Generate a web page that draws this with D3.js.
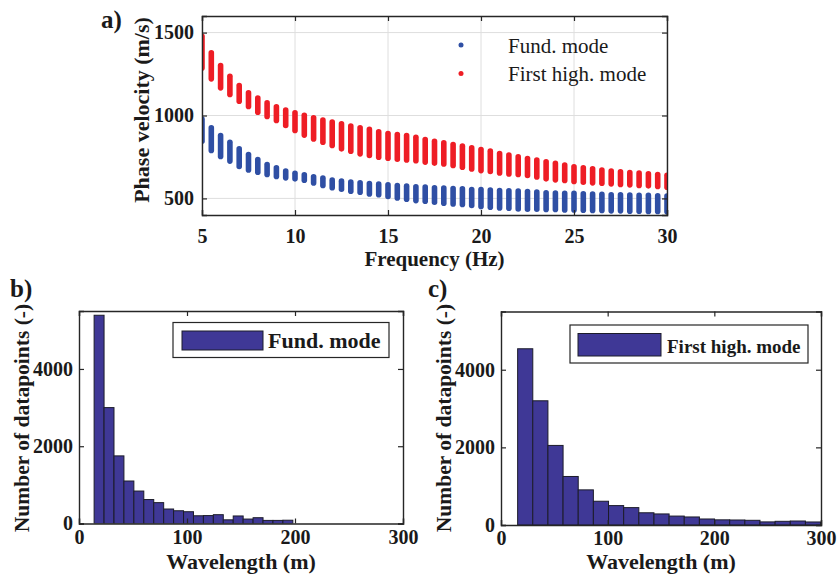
<!DOCTYPE html>
<html>
<head>
<meta charset="utf-8">
<script src="https://cdn.jsdelivr.net/npm/d3@7"></script>
<style>
  html, body { margin: 0; padding: 0; background: #fff; }
  svg { display: block; }
  text { font-family: "Liberation Serif", "Times New Roman", serif; fill: #1a1a1a; }
</style>
</head>
<body>
<svg id="chart" width="837" height="579"></svg>
<script>
// ---------- Data: panel a ----------
const frequencies = [5,5.5,6,6.5,7,7.5,8,8.5,9,9.5,10,10.5,11,11.5,12,12.5,13,13.5,14,14.5,15,15.5,16,16.5,17,17.5,18,18.5,19,19.5,20,20.5,21,21.5,22,22.5,23,23.5,24,24.5,25,25.5,26,26.5,27,27.5,28,28.5,29,29.5,30];
const fundMax = [995,943,896,856,816,782,752,721,702,682,669,659,647,639,627,621,615,611,607,603,599,595,591,587,585,581,579,577,575,571,570,567,565,563,561,559,555,551,550,547,547,545,543,541,539,539,537,535,535,533,531];
const fundMin = [828,772,736,708,676,655,641,627,615,607,601,593,576,561,547,539,527,521,510,505,495,486,478,470,466,460,454,450,446,440,434,430,426,424,420,418,418,417,416,414,414,412,410,410,408,408,406,406,404,404,402];
const highMax = [1495,1395,1318,1254,1198,1154,1122,1093,1069,1049,1033,1018,1003,989,977,967,953,943,933,919,908,902,896,885,872,862,852,842,832,822,812,802,788,778,768,758,748,738,728,718,708,702,696,688,682,678,673,670,665,661,657];
const highMin = [1270,1204,1150,1110,1069,1037,1003,977,953,923,893,865,842,822,802,782,768,752,742,732,726,720,715,710,702,696,691,682,671,661,651,645,637,631,627,621,613,601,595,591,585,581,577,575,571,567,565,561,559,555,551];
const seriesNames = ["Fund. mode", "First high. mode"];
const freqTicks = [5,10,15,20,25,30];
const velTicks = [500,1000,1500];

// ---------- Data: panels b, c ----------
const fundBinEdges = [14,23.2,32.4,41.6,50.8,60,69.2,78.4,87.6,96.8,106,115.2,124.4,133.6,142.8,152,161.2,170.4,179.6,188.8,198];
const fundCounts = [5390,3000,1750,1100,840,620,540,375,330,305,200,205,228,95,195,115,150,80,80,85];
const highBinEdges = [15.6,29.8,44,58.2,72.4,86.6,100.8,115,129.2,143.4,157.6,171.8,186,200.2,214.4,228.6,242.8,257,271.2,285.4,299.6];
const highCounts = [4540,3200,2050,1250,905,612,500,448,315,285,230,207,155,133,129,121,80,95,103,78];
const wlTicks = [0,100,200,300];
const countTicks = [0,2000,4000];

const svg = d3.select("#chart");
const axisColor = "#262626";
const red = "#ee1d25", blue = "#2f4fa4", barFill = "#3f3896";

// ================= Panel a =================
(function() {
  const L = 202, R = 667, T = 16, B = 215;
  const x = d3.scaleLinear().domain([5,30]).range([L,R]);
  const y = d3.scaleLinear().domain([400,1600]).range([B,T]);
  const g = svg.append("g");
  g.selectAll(".gx").data(freqTicks).join("line")
    .attr("x1", d=>x(d)).attr("x2", d=>x(d)).attr("y1", T).attr("y2", B)
    .attr("stroke", "#dedede").attr("stroke-width", 1);
  g.selectAll(".gy").data(velTicks).join("line")
    .attr("x1", L).attr("x2", R).attr("y1", d=>y(d)).attr("y2", d=>y(d))
    .attr("stroke", "#dedede").attr("stroke-width", 1);
  svg.append("clipPath").attr("id","clipA").append("rect")
    .attr("x", L).attr("y", T).attr("width", R-L).attr("height", B-T);
  const cols = g.append("g").attr("clip-path","url(#clipA)");
  const rad = 2.8;
  function drawSeries(maxArr, minArr, color) {
    cols.append("g").selectAll("line").data(frequencies).join("line")
      .attr("x1", d=>x(d)).attr("x2", d=>x(d))
      .attr("y1", (d,i)=>y(maxArr[i]) + rad)
      .attr("y2", (d,i)=>Math.max(y(minArr[i]) - rad, y(maxArr[i]) + rad))
      .attr("stroke", color).attr("stroke-width", rad*2).attr("stroke-linecap","round");
  }
  drawSeries(highMax, highMin, red);
  drawSeries(fundMax, fundMin, blue);
  const xa = g.append("g").attr("transform", `translate(0,${B})`)
    .call(d3.axisBottom(x).tickValues(freqTicks).tickSize(-5).tickPadding(14).tickFormat(d3.format("d")));
  const xt = g.append("g").attr("transform", `translate(0,${T})`)
    .call(d3.axisTop(x).tickValues(freqTicks).tickSize(-5).tickFormat(""));
  const ya = g.append("g").attr("transform", `translate(${L},0)`)
    .call(d3.axisLeft(y).tickValues(velTicks).tickSize(-5).tickPadding(8).tickFormat(d3.format("d")));
  const yr = g.append("g").attr("transform", `translate(${R},0)`)
    .call(d3.axisRight(y).tickValues(velTicks).tickSize(-5).tickFormat(""));
  [xa,xt,ya,yr].forEach(a => {
    a.select(".domain").attr("stroke", axisColor).attr("stroke-width", 1.4);
    a.selectAll(".tick line").attr("stroke", axisColor).attr("stroke-width", 1.2);
    a.selectAll("text").attr("font-family","Liberation Serif").attr("font-weight","bold")
      .attr("font-size", 20).attr("fill", "#1a1a1a");
  });
  g.append("text").attr("x", (L+R)/2).attr("y", 266).attr("text-anchor","middle")
    .attr("font-weight","bold").attr("font-size", 21).text("Frequency (Hz)");
  g.append("text").attr("transform", `translate(149,110) rotate(-90)`)
    .attr("text-anchor","middle").attr("font-weight","bold").attr("font-size", 22)
    .text("Phase velocity (m/s)");
  g.append("text").attr("x", 101).attr("y", 28).attr("font-weight","bold").attr("font-size", 25).text("a)");
  const lg = g.append("g");
  const legendColors = [blue, red];
  seriesNames.forEach((name, i) => {
    const yy = 45 + i*28.5;
    lg.append("circle").attr("cx", 461).attr("cy", yy).attr("r", 2.5).attr("fill", legendColors[i]);
    lg.append("text").attr("x", 508).attr("y", yy + 7.5).attr("font-size", 21).text(name);
  });
})();

// ================= Panels b, c =================
function histogram(opts) {
  const {L, R, T, B, edges, counts, label, legend, legendBox, legendFont} = opts;
  const x = d3.scaleLinear().domain([0,300]).range([L,R]);
  const y = d3.scaleLinear().domain([0,5500]).range([B,T]);
  const g = svg.append("g");
  const clipId = "clip" + label.replace(/\W/g,"");
  svg.append("clipPath").attr("id", clipId).append("rect")
    .attr("x", L).attr("y", T).attr("width", R-L).attr("height", B-T);
  g.append("g").attr("clip-path", `url(#${clipId})`).selectAll("rect").data(counts).join("rect")
    .attr("x", (d,i)=>x(edges[i])).attr("width", (d,i)=>x(edges[i+1]) - x(edges[i]))
    .attr("y", d=>y(d)).attr("height", d=>B - y(d))
    .attr("fill", barFill).attr("stroke", "#1c1c2a").attr("stroke-width", 1);
  const xa = g.append("g").attr("transform", `translate(0,${B})`)
    .call(d3.axisBottom(x).tickValues(wlTicks).tickSize(-5).tickPadding(6).tickFormat(d3.format("d")));
  const xt = g.append("g").attr("transform", `translate(0,${T})`)
    .call(d3.axisTop(x).tickValues(wlTicks).tickSize(-5).tickFormat(""));
  const ya = g.append("g").attr("transform", `translate(${L},0)`)
    .call(d3.axisLeft(y).tickValues(countTicks).tickSize(-5).tickPadding(6).tickFormat(d3.format("d")));
  const yr = g.append("g").attr("transform", `translate(${R},0)`)
    .call(d3.axisRight(y).tickValues(countTicks).tickSize(-5).tickFormat(""));
  [xa,xt,ya,yr].forEach(a => {
    a.select(".domain").attr("stroke", axisColor).attr("stroke-width", 1.4);
    a.selectAll(".tick line").attr("stroke", axisColor).attr("stroke-width", 1.2);
    a.selectAll("text").attr("font-family","Liberation Serif").attr("font-weight","bold")
      .attr("font-size", 20).attr("fill", "#1a1a1a");
  });
  g.append("text").attr("x", (L+R)/2).attr("y", 569).attr("text-anchor","middle")
    .attr("font-weight","bold").attr("font-size", 22).text("Wavelength (m)");
  g.append("text").attr("transform", `translate(${L-50},418) rotate(-90)`)
    .attr("text-anchor","middle").attr("font-weight","bold").attr("font-size", 21.5)
    .text("Number of datapoints (-)");
  g.append("text").attr("x", opts.labelX).attr("y", 297).attr("font-weight","bold").attr("font-size", 25).text(label);
  const [bx0, by0, bx1, by1, px0, py0, px1, py1, tx, ty] = legendBox;
  g.append("rect").attr("x", bx0).attr("y", by0).attr("width", bx1-bx0).attr("height", by1-by0)
    .attr("fill", "#fff").attr("stroke", axisColor).attr("stroke-width", 1.2);
  g.append("rect").attr("x", px0).attr("y", py0).attr("width", px1-px0).attr("height", py1-py0)
    .attr("fill", barFill).attr("stroke", "#1c1c2a").attr("stroke-width", 1);
  g.append("text").attr("x", tx).attr("y", ty).attr("font-weight","bold").attr("font-size", legendFont).text(legend);
}

histogram({L:79, R:403, T:311, B:523.5, edges: fundBinEdges, counts: fundCounts, label: "b)", labelX: 10,
  legend: seriesNames[0], legendFont: 22,
  legendBox: [173, 322.5, 389, 357.5, 182, 331, 263, 350, 268, 348]});
histogram({L:501, R:821, T:311.5, B:525, edges: highBinEdges, counts: highCounts, label: "c)", labelX: 428,
  legend: seriesNames[1], legendFont: 19,
  legendBox: [570, 325, 808, 363, 578, 333.5, 661, 356, 667, 353]});
</script>
</body>
</html>
